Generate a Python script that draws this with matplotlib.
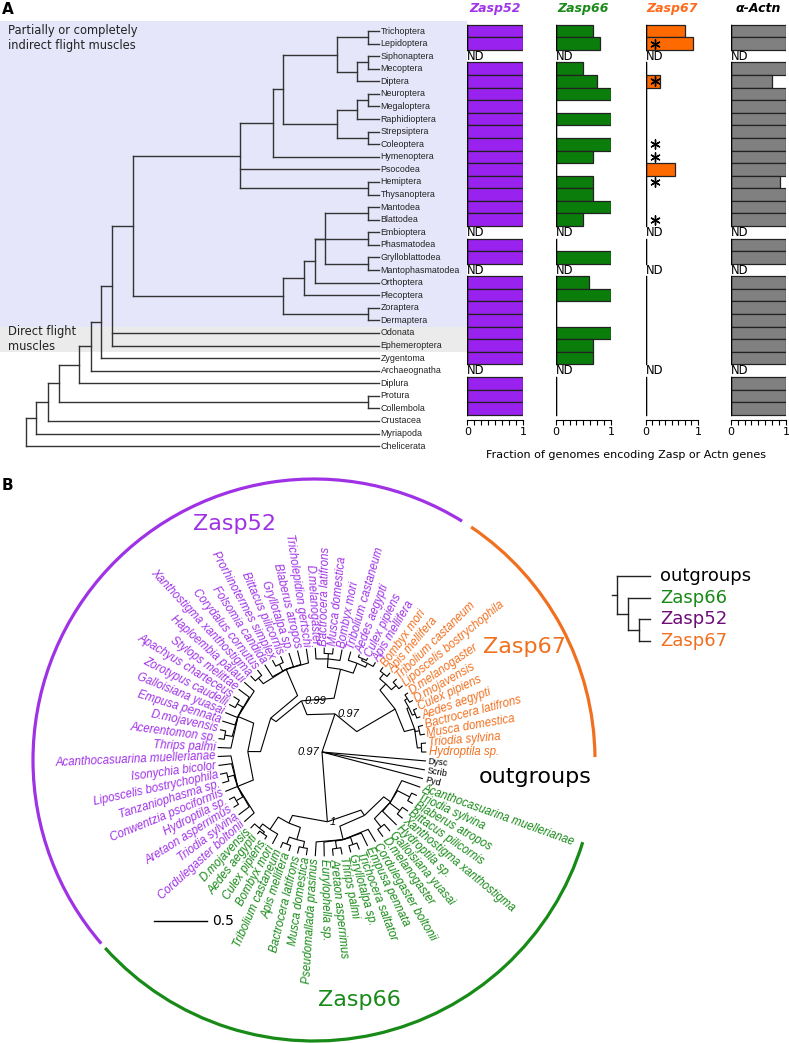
import numpy as np
import matplotlib.pyplot as plt
from matplotlib.patches import Arc
from matplotlib.collections import LineCollection
from matplotlib.ticker import MultipleLocator

W, H = 789, 1043
fig = plt.figure(figsize=(W / 100, H / 100), dpi=100)


def px_axes(x0, y0, x1, y1):
    ax = fig.add_axes([x0 / W, 1 - y1 / H, (x1 - x0) / W, (y1 - y0) / H])
    ax.patch.set_alpha(0)
    return ax


# ---------------- panel A data ----------------
taxa = ["Trichoptera", "Lepidoptera", "Siphonaptera", "Mecoptera", "Diptera",
        "Neuroptera", "Megaloptera", "Raphidioptera", "Strepsiptera", "Coleoptera",
        "Hymenoptera", "Psocodea", "Hemiptera", "Thysanoptera", "Mantodea",
        "Blattodea", "Embioptera", "Phasmatodea", "Grylloblattodea",
        "Mantophasmatodea", "Orthoptera", "Plecoptera", "Zoraptera", "Dermaptera",
        "Odonata", "Ephemeroptera", "Zygentoma", "Archaeognatha", "Diplura",
        "Protura", "Collembola", "Crustacea", "Myriapoda", "Chelicerata"]

# node = (node depth, [children]); tips are taxon names
tree_a = (26, [
    (36, [
        (48.3, [
            (58.7, [
                (79.3, [
                    (90.7, [
                        (101, [
                            (112, [
                                (133, [
                                    (240, [
                                        (273, [
                                            (283, [
                                                (337, [(368, ["Trichoptera", "Lepidoptera"]),
                                                       (357, [(368, ["Siphonaptera", "Mecoptera"]), "Diptera"])]),
                                                (337, [(357, [(368, ["Neuroptera", "Megaloptera"]), "Raphidioptera"]),
                                                       (368, ["Strepsiptera", "Coleoptera"])])]),
                                            "Hymenoptera"]),
                                        "Psocodea",
                                        (368, ["Hemiptera", "Thysanoptera"])]),
                                    (283, [
                                        (304, [
                                            (315, [
                                                (325, [(368, ["Mantodea", "Blattodea"]),
                                                       (368, ["Grylloblattodea", "Mantophasmatodea"])]),
                                                (368, ["Embioptera", "Phasmatodea"]),
                                                "Orthoptera"]),
                                            "Plecoptera"]),
                                        (368, ["Zoraptera", "Dermaptera"])])]),
                                "Odonata", "Ephemeroptera"]),
                            "Zygentoma"]),
                        "Archaeognatha"]),
                    "Diplura"]),
                (368, ["Protura", "Collembola"])]),
            "Crustacea"]),
        "Myriapoda"]),
    "Chelicerata"])
tip_depth_a = 379

ND = np.nan
genes = ["Zasp52", "Zasp66", "Zasp67", "α-Actn"]
zasp52 = [1, 1, ND, 1, 1, 1, 1, 1, 1, 1, 1, 1, 1, 1, 1, 1, ND, 1, 1, ND,
          1, 1, 1, 1, 1, 1, 1, ND, 1, 1, 1]
zasp66 = [0.67, 0.8, ND, 0.5, 0.75, 1, 0, 1, 0, 1, 0.67, 0, 0.67, 0.67, 1, 0.5,
          ND, 0, 1, ND, 0.6, 1, 0, 0, 1, 0.67, 0.67, ND, 0, 0, 0]
zasp67 = [0.75, 0.9, ND, 0, 0.28, 0, 0, 0, 0, 0, 0, 0.57, 0, 0, 0, 0,
          ND, 0, 0, ND, 0, 0, 0, 0, 0, 0, 0, ND, 0, 0, 0]
actn = [1, 1, ND, 1, 0.75, 1, 1, 1, 1, 1, 1, 1, 0.89, 1, 1, 1, ND, 1, 1, ND,
        1, 1, 1, 1, 1, 1, 1, ND, 1, 1, 1]
zasp67_star_rows = [1, 4, 9, 10, 12, 15]
star_x = 0.19

gene_values = [zasp52, zasp66, zasp67, actn]
bar_colors = ["#9a22ee", "#0b7d0b", "#ff6a00", "#808080"]
head_colors = ["#a035e8", "#1a8a1a", "#ff6a1a", "black"]

# ---------------- panel A drawing ----------------
ROW0, STEP = 31.0, 12.58
TOP, BOT = 0, 465
ylim_a = ((BOT - ROW0) / STEP, (TOP - ROW0) / STEP)
rows = {t: i for i, t in enumerate(taxa)}
line_kw = dict(color="#333333", lw=1.0, solid_capstyle="projecting")

axt = px_axes(0, TOP, 467.3, BOT)
axt.set_xlim(0, 467.3)
axt.set_ylim(*ylim_a)
axt.axis("off")
axt.axhspan(-0.8, 23.5, color="#e6e6fa", lw=0, zorder=0)
axt.axhspan(23.5, 25.5, color="#ebebeb", lw=0, zorder=0)


def draw_clado(ax, node, rowmap, tip_x, stub=0.0, **kw):
    def walk(n):
        if isinstance(n, str):
            return tip_x, rowmap[n]
        x = n[0]
        kids = [walk(k) for k in n[1]]
        ys = [k[1] for k in kids]
        ax.plot([x, x], [min(ys), max(ys)], **kw)
        for kx, ky in kids:
            ax.plot([x, kx], [ky, ky], **kw)
        return x, (min(ys) + max(ys)) / 2
    x, y = walk(node)
    if stub:
        ax.plot([x - stub, x], [y, y], **kw)


draw_clado(axt, tree_a, rows, tip_depth_a, **line_kw)
for t, i in rows.items():
    axt.text(tip_depth_a + 1.5, i, t, va="center", ha="left", fontsize=6.4,
             family="Liberation Sans", color="#222222")

axt.text(8, -0.55, "Partially or completely\nindirect flight muscles", va="top",
         ha="left", fontsize=8.3, color="#222222")
axt.text(8, 24.5, "Direct flight\nmuscles", va="center", ha="left",
         fontsize=8.3, color="#222222")
fig.text(2 / W, 1 - 10 / H, "A", fontsize=11, fontweight="bold", va="center")

col_px = [(467.3, 523.3), (555.7, 611.0), (645.5, 698.0), (730.7, 786.0)]
for g, vals, c, hc, (x0, x1) in zip(genes, gene_values, bar_colors, head_colors, col_px):
    ax = px_axes(x0, TOP, x1, BOT)
    ax.set_xlim(0, 1)
    ax.set_ylim(*ylim_a)
    v = np.array(vals, dtype=float)
    idx = np.arange(len(v))
    ok = ~np.isnan(v)
    ax.barh(idx[ok], v[ok], height=1.0, color=c, edgecolor="#222222", lw=0.9)
    # left baseline, broken at ND rows
    start = None
    for i in list(idx) + [len(v)]:
        good = i < len(v) and ok[i]
        if good and start is None:
            start = i
        if not good and start is not None:
            ax.plot([0, 0], [start - 0.5, i - 0.5], color="black", lw=1.0)
            start = None
    for i in idx[~ok]:
        ax.text(0, i, "ND", ha="left", va="center", fontsize=8.3, clip_on=False)
    ax.text(0.5, -1.75, g, ha="center", va="center", fontsize=9,
            fontweight="bold", style="italic", color=hc)
    for s in ["left", "right", "top"]:
        ax.spines[s].set_visible(False)
    ax.spines["bottom"].set_position(("data", 30.9))
    ax.set_yticks([])
    ax.set_xticks([0, 1])
    ax.set_xticklabels(["0", "1"])
    ax.xaxis.set_minor_locator(MultipleLocator(0.125))
    ax.tick_params(axis="x", which="both", direction="out", length=3.5,
                   width=0.8, labelsize=8, pad=1.5)
    if g == "Zasp67":
        ax.scatter([star_x] * len(zasp67_star_rows), zasp67_star_rows,
                   marker=(6, 2, 0), s=45, color="black", linewidths=1.0, zorder=5)

fig.text(626 / W, 1 - 455 / H, "Fraction of genomes encoding Zasp or Actn genes",
         ha="center", va="center", fontsize=8)

# ---------------- panel B data ----------------
zasp67_tips = ["Hydroptila sp.", "Triodia sylvina", "Musca domestica",
               "Bactrocera latifrons", "Aedes aegypti", "Culex pipiens",
               "D.mojavensis", "D.melanogaster", "Liposcelis bostrychophila",
               "Tribolium castaneum", "Apis mellifera", "Bombyx mori"]
zasp52_tips = ["Apis mellifera", "Culex pipiens", "Aedes aegypti",
               "Tribolium castaneum", "Bombyx mori", "Musca domestica",
               "Bactrocera latifrons", "D.melanogaster", "Tricholepidion gertschi",
               "Blaberus atropos", "Gryllotalpa sp.", "Bittacus pilicornis",
               "Prorhinotermes simplex", "Folsomia candida", "Corydalus cornutus",
               "Xanthostigma xanthostigma", "Haploembia palaui", "Stylops melittae",
               "Apachyus charteceus", "Zorotypus caudelli", "Galloisiana yuasai",
               "Empusa pennata", "D.mojavensis", "Acerentomon sp.", "Thrips palmi",
               "Acanthocasuarina muellerianae", "Isonychia bicolor",
               "Liposcelis bostrychophila", "Tanzaniophasma sp.",
               "Conwentzia psociformis", "Hydroptila sp.", "Aretaon asperrimus",
               "Triodia sylvina", "Cordulegaster boltonii"]
zasp66_tips = ["D.mojavensis", "Aedes aegypti", "Culex pipiens", "Bombyx mori",
               "Tribolium castaneum", "Apis mellifera", "Bactrocera latifrons",
               "Musca domestica", "Pseudomallada prasinus", "Eurylophella sp.",
               "Aretaon asperrimus", "Thrips palmi", "Gryllotalpa sp.",
               "Trichocera saltator", "Empusa pennata", "Cordulegaster boltonii",
               "D.melanogaster", "Galloisiana yuasai", "Hydroptila sp.",
               "Xanthostigma xanthostigma", "Bittacus pilicornis",
               "Blaberus atropos", "Triodia sylvina", "Acanthocasuarina muellerianae"]
outgroup_tips = ["Pyd", "Scrib", "Dysc"]

# node = (distance from root, [children], support); tips are indices into tips_b
tree_b = (0.0, [
    (0.38, [
        (0.52, [
            (0.80, [(0.90, [(0.94, [12, (0.96, [13, 14])]), 15]),
                    (0.88, [16, (0.93, [17, 18]), 19])]),
            (0.58, [
                (0.85, [20, 21, 22, (0.92, [23, 24]), 25, (0.92, [26, 27])]),
                (0.70, [
                    (0.86, [28, 29, (0.92, [30, 31]), 32, 33, (0.93, [34, 35]), 36]),
                    (0.86, [37, 38, (0.92, [39, 40]), 41, (0.93, [42, 43]), 44, 45])])])],
         "0.99"),
        (0.80, [
            (0.90, [(0.94, [0, 1]), (0.94, [2, 3]),
                    (0.92, [(0.95, [4, 5]), (0.95, [6, 7])])]),
            (0.88, [(0.94, [8, 9]), (0.94, [10, 11])])])],
     "0.97"),
    (0.66, [
        (0.74, [(0.88, [(0.93, [46, (0.95, [47, 48])]), 49]),
                (0.86, [(0.93, [50, 51]), (0.92, [52, 53])])]),
        (0.72, [(0.85, [54, 55, (0.92, [56, 57]), (0.92, [58, 59]), 60, 61]),
                (0.80, [(0.90, [62, 63]), 64, (0.92, [65, 66]), (0.93, [67, 68]), 69])])],
     "1"),
    70, 71, 72], "0.97")
tip_r = 0.985
scale_len = 0.5

groups_b = ["Zasp67", "Zasp52", "Zasp66", "outgroups"]
group_colors = ["#f07020", "#a032e6", "#178a17", "black"]
arc_spans = {"Zasp67": (0.6, 56.0), "Zasp52": (58.2, 220.8), "Zasp66": (222.0, 343.0)}

tips_b = zasp67_tips + zasp52_tips + zasp66_tips + outgroup_tips
tip_cols = ([group_colors[0]] * len(zasp67_tips) + [group_colors[1]] * len(zasp52_tips)
            + [group_colors[2]] * len(zasp66_tips) + [group_colors[3]] * len(outgroup_tips))
angles = np.arange(len(tips_b)) * 360.0 / len(tips_b)

# ---------------- panel B drawing ----------------
PXU = 106.0
CX, CY = 322, 752
B_TOP = 465
axb = px_axes(0, B_TOP, W, H)
axb.set_xlim((0 - CX) / PXU, (W - CX) / PXU)
axb.set_ylim((CY - H) / PXU, (CY - B_TOP) / PXU)
axb.axis("off")


def polar(r, deg):
    t = np.deg2rad(deg)
    return (r * np.cos(t), r * np.sin(t))


segs, boots = [], []


def place(node):
    if isinstance(node, int):
        return tip_r, angles[node]
    r = node[0]
    kids = [place(k) for k in node[1]]
    th = np.mean([k[1] for k in kids])
    for rk, tk in kids:
        segs.append([polar(r, th), polar(r, tk), polar(rk, tk)])
    if len(node) > 2:
        boots.append((polar(r, th), node[2], r == 0))
    return r, th


place(tree_b)
axb.add_collection(LineCollection(segs, colors="black", linewidths=0.8))
for (x, y), lab, is_root in boots:
    axb.annotate(lab, (x, y), xytext=(-2 if is_root else 2, 0), textcoords="offset points",
                 ha="right" if is_root else "left", va="center", fontsize=8,
                 style="italic", family="Liberation Sans")

for name, th, col in zip(tips_b, angles, tip_cols):
    x, y = polar(tip_r + 0.02, th)
    right = np.cos(np.deg2rad(th)) >= 0
    rot = th if right else th - 180
    out = col == "black"
    axb.text(x, y, name, rotation=rot, rotation_mode="anchor",
             ha="left" if right else "right", va="center",
             fontsize=6.5 if out else 8.3, style="normal" if out else "italic",
             family="Liberation Sans", color=col)

arc_c = ((314 - CX) / PXU, (CY - 760) / PXU)
arc_r = 281 / PXU
for g, c in zip(groups_b, group_colors):
    if g in arc_spans:
        t1, t2 = arc_spans[g]
        axb.add_patch(Arc(arc_c, 2 * arc_r, 2 * arc_r, theta1=t1, theta2=t2,
                          color=c, lw=2.3))

group_label_px = {"Zasp52": (234, 524), "Zasp67": (524, 647),
                  "Zasp66": (359, 1000), "outgroups": (535, 777)}
for g, c in zip(groups_b, group_colors):
    px, py = group_label_px[g]
    axb.text((px - CX) / PXU, (CY - py) / PXU, g, ha="center", va="center",
             fontsize=16, color=c)

sb_x, sb_y = (154 - CX) / PXU, (CY - 921) / PXU
axb.plot([sb_x, sb_x + scale_len], [sb_y, sb_y], color="black", lw=1)
axb.text(sb_x + scale_len + 0.05, sb_y, f"{scale_len}", ha="left", va="center", fontsize=10)
fig.text(2 / W, 1 - 485 / H, "B", fontsize=11, fontweight="bold", va="center")

# small legend tree
legend_tree = (0, ["outgroups", (1, ["Zasp66", (2, ["Zasp52", "Zasp67"])])])
legend_rows = {"outgroups": 0, "Zasp66": 1, "Zasp52": 2, "Zasp67": 3}
legend_colors = {"outgroups": "black", "Zasp66": "#178a17", "Zasp52": "#6e0d78",
                 "Zasp67": "#f07020"}
axl = px_axes(605, 562, 770, 655)
axl.set_xlim((605 - 617) / 11, (770 - 617) / 11)
axl.set_ylim((655 - 576) / 21.67, (562 - 576) / 21.67)
axl.axis("off")
draw_clado(axl, legend_tree, legend_rows, 3, stub=0.45, color="#222222", lw=1.0,
           solid_capstyle="projecting")
for g, i in legend_rows.items():
    axl.text(3.9, i, g, ha="left", va="center", fontsize=13, color=legend_colors[g])

fig.savefig("out.png", dpi=100)
